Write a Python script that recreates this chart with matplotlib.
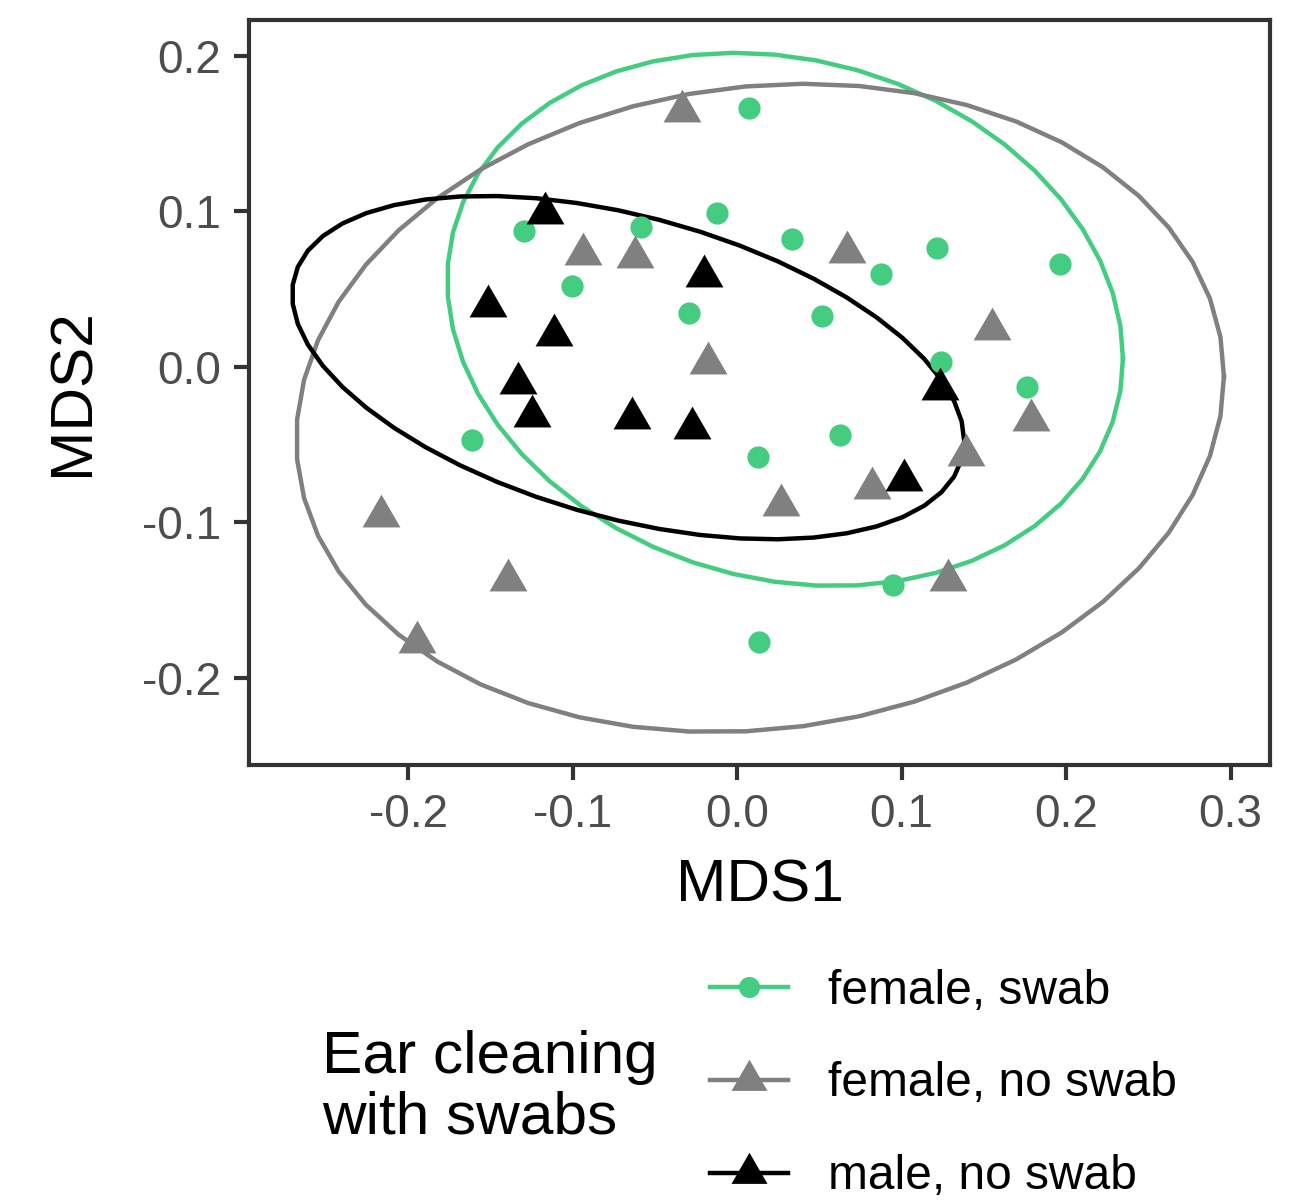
import numpy as np
import matplotlib.pyplot as plt
from matplotlib.lines import Line2D

plt.rcParams['font.family'] = ['Liberation Sans', 'DejaVu Sans']

# female, swab (green circles)
fs_x = [0.0073, -0.1296, -0.0584, -0.0122, -0.1004, -0.0290, 0.0335, 0.0517, 0.0876,
        0.1217, 0.1965, 0.1240, 0.1764, 0.0627, 0.0128, -0.1612, 0.0949, 0.0134]
fs_y = [0.1666, 0.0875, 0.0900, 0.0990, 0.0520, 0.0347, 0.0823, 0.0328, 0.0598,
        0.0765, 0.0662, 0.0032, -0.0129, -0.0437, -0.0579, -0.0470, -0.1400, -0.1768]

# female, no swab (grey triangles)
fn_x = [-0.0336, -0.0935, -0.0620, -0.0174, 0.0671, 0.1550, 0.1788, 0.1393, 0.0823,
        0.0266, 0.1280, -0.2167, -0.1393, -0.1945]
fn_y = [0.1642, 0.0725, 0.0708, 0.0026, 0.0740, 0.0245, -0.0341, -0.0564, -0.0782,
        -0.0887, -0.1370, -0.0962, -0.1370, -0.1768]

# male, no swab (black triangles)
mn_x = [-0.1170, -0.0201, -0.1515, -0.1110, -0.1330, -0.1245, -0.0637, -0.0272, 0.1235, 0.1018]
mn_y = [0.0988, 0.0581, 0.0388, 0.0202, -0.0105, -0.0319, -0.0330, -0.0392, -0.0142, -0.0727]

# 95% ellipses: center x, center y, half width, half height, y offset at the x extreme
ell_cx = [0.0292, 0.0140, -0.0662]
ell_cy = [0.0305, -0.0264, -0.0005]
ell_hx = [0.2054, 0.2820, 0.2043]
ell_hy = [0.1714, 0.2084, 0.1104]
ell_off = [-0.0252, 0.0203, -0.0472]

groups = ['female, swab', 'female, no swab', 'male, no swab']
colors = ['#44CD81', '#808080', '#000000']

tri = [(0, 1), (-0.866, -0.5), (0.866, -0.5)]
markers = ['o', tri, tri]
msizes = [16, 31.5, 31.5]

fig = plt.figure(figsize=(13.08, 12.01), dpi=100)
ax = fig.add_axes([249 / 1308, 1 - 765 / 1201, (1270 - 249) / 1308, (765 - 20) / 1201])

t = np.linspace(0, 2 * np.pi, 52)
for cx, cy, hx, hy, off, c in zip(ell_cx, ell_cy, ell_hx, ell_hy, ell_off, colors):
    ex = cx + hx * np.cos(t)
    ey = cy + off * np.cos(t) + np.sqrt(hy ** 2 - off ** 2) * np.sin(t)
    ax.plot(ex, ey, color=c, lw=3.2, zorder=2)

data = [(fs_x, fs_y), (fn_x, fn_y), (mn_x, mn_y)]
for (xs, ys), c, m, s in zip(data, colors, markers, msizes):
    ax.plot(xs, ys, linestyle='none', marker=m, markersize=s, color=c,
            markeredgewidth=0, zorder=3)

ax.set_xlim(-0.2967, 0.324)
ax.set_ylim(-0.256, 0.223)
xt = [-0.2, -0.1, 0.0, 0.1, 0.2, 0.3]
yt = [-0.2, -0.1, 0.0, 0.1, 0.2]
ax.set_xticks(xt)
ax.set_xticklabels(['%.1f' % v if v != 0 else '0.0' for v in xt])
ax.set_yticks(yt)
ax.set_yticklabels(['%.1f' % v if v != 0 else '0.0' for v in yt])
ax.tick_params(length=11, width=3, color='#333333', labelsize=33,
               labelcolor='#4D4D4D', pad=9)
for sp in ax.spines.values():
    sp.set_linewidth(3)
    sp.set_color('#333333')
ax.set_xlabel('MDS1', fontsize=43.5, labelpad=16)
ax.set_ylabel('MDS2', fontsize=43.5, labelpad=30)

handles = [Line2D([], [], color=c, lw=3.2, marker=m, markersize=s * 0.95, markeredgewidth=0)
           for c, m, s in zip(colors, markers, msizes)]
fig.text(322 / 1308, 1 - 1088 / 1201, 'Ear cleaning\nwith swabs', fontsize=43.5,
         ha='left', va='center', linespacing=1.12)
fig.legend(handles, groups, loc='center left', bbox_to_anchor=(710 / 1308, 1 - 1084 / 1201),
           frameon=False, fontsize=34.5, handlelength=1.62, handletextpad=0.85,
           labelspacing=1.0, borderpad=0, borderaxespad=0)

fig.savefig('out.png', dpi=100)
